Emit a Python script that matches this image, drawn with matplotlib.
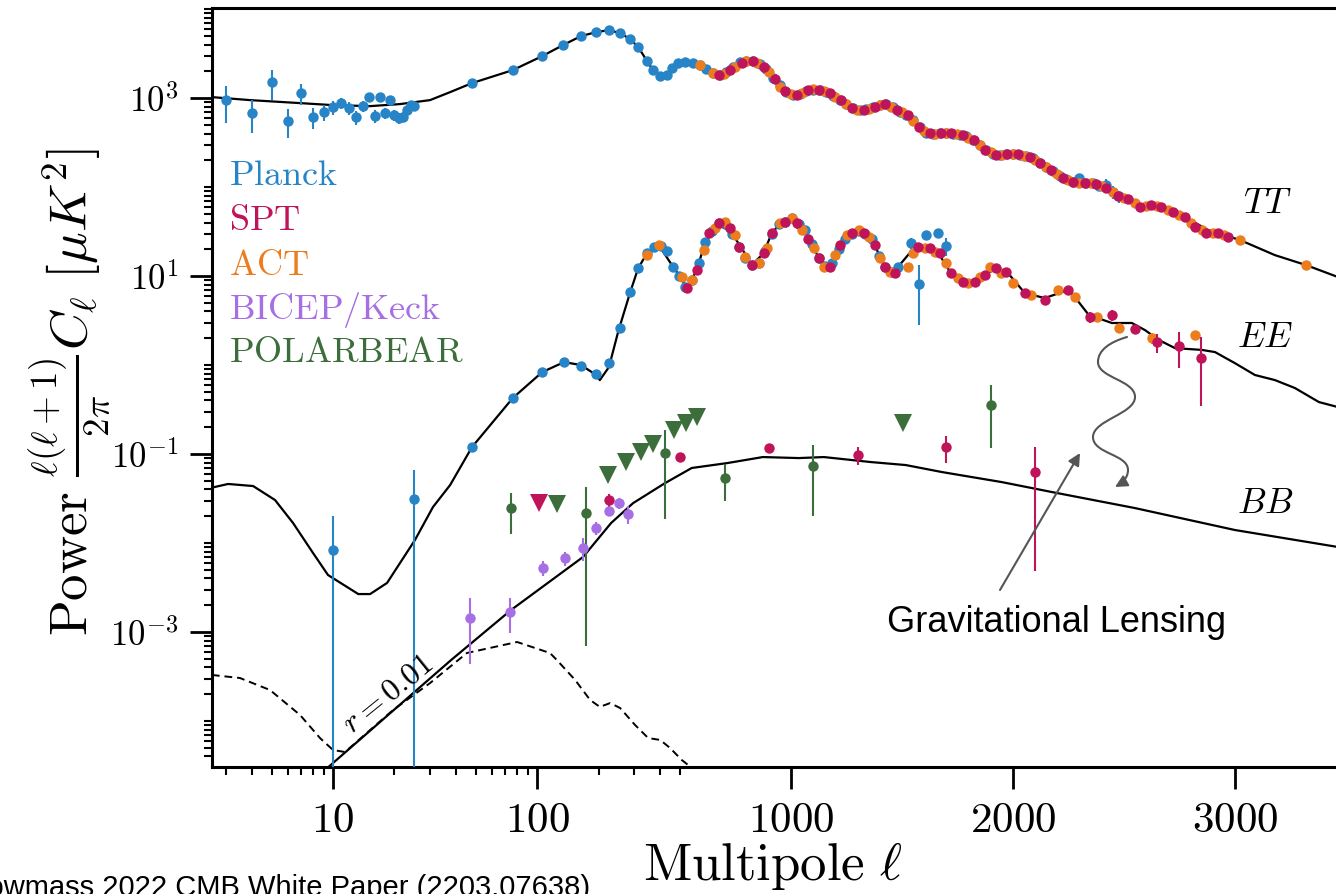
import numpy as np
import matplotlib
matplotlib.use("Agg")
import matplotlib.pyplot as plt
from matplotlib.path import Path
from matplotlib.patches import FancyArrowPatch
from matplotlib.ticker import FixedLocator, FixedFormatter, NullFormatter

plt.rcParams['mathtext.fontset'] = 'cm'

# theory spectra (multipole, D_ell in uK^2) -----------------------------
tt_ell = [2.5, 3.92, 6.89, 10, 15.2, 21.3, 29.9, 37.5, 48, 76, 106, 134, 164, 195, 225, 255, 286, 313,
          346, 370, 401, 434, 459, 491, 532, 568, 613, 676, 725, 779, 824, 878, 923, 973, 1018, 1081,
          1126, 1171, 1216, 1275, 1320, 1378, 1423, 1491, 1527, 1581, 1626, 1721, 1784, 1874, 1923,
          2023, 2077, 2126, 2216, 2324, 2374, 2473, 2577, 2667, 2775, 2879, 3023, 3180, 3320, 3464, 3520]
tt_D = [1030, 950, 879, 834, 813, 857, 950, 1168, 1475, 2064, 2965, 3945, 4977, 5521, 5808, 5373, 4603, 3742,
        2606, 2064, 1768, 1813, 2172, 2473, 2535, 2473, 2229, 1813, 2064, 2473, 2673, 2349, 1678, 1231, 1081, 1231,
        1231, 1138, 950, 773, 733, 813, 879, 697, 644, 472, 384, 404, 384, 261, 229,
        235, 217, 177, 126, 111, 108, 81.3, 62.8, 59.6, 46.0, 32.9, 25.4, 17.2, 13.3, 9.75, 9.2]

ee_ell = [2.5, 3.06, 4.06, 5.2, 6.37, 7.98, 9.45, 13.3, 15.2, 18.4, 25.2, 30.9, 37.5, 48, 76, 106, 135.6,
          164, 195, 203, 225, 250, 286, 313, 346, 395, 451, 502, 532, 577, 613, 676, 734, 779, 824, 878,
          914, 959, 1005, 1063, 1126, 1171, 1230, 1275, 1320, 1378, 1423, 1468, 1482, 1530, 1572, 1626,
          1676, 1721, 1797, 1887, 1932, 1978, 2054, 2144, 2248, 2279, 2342, 2446, 2536, 2595, 2658, 2730,
          2851, 2910, 3000, 3090, 3180, 3270, 3378, 3464, 3520]
ee_D = [0.0415, 0.0461, 0.0437, 0.0304, 0.0168, 0.00773, 0.00437, 0.00267, 0.00267, 0.00356, 0.0108, 0.0254,
        0.0449, 0.120, 0.426, 0.834, 1.08, 1.0, 0.773, 0.678, 0.95, 2.4, 6.6, 12.3, 18.1, 22.3, 14.0, 9.75, 7.33,
        11.7, 23.5, 39.4, 30.4, 20.6, 13.3, 18.1, 30.4, 40.5, 44.9, 32.9, 15.9, 12.6, 23.5, 30.4, 31.2, 22.3,
        12.6, 10.8, 12.6, 17.5, 21.2, 20.6, 16.3, 10.8, 8.34, 10.8, 12.3, 10.8, 6.44, 5.66, 6.97, 5.81, 3.65,
        2.97, 2.97, 2.47, 1.91, 1.55, 1.48, 1.40, 1.05, 0.773, 0.678, 0.552, 0.384, 0.337, 0.31]

bb_ell = [9, 37.9, 74.6, 168, 230.6, 295.5, 424, 554, 716, 874, 1036, 1149, 1360, 1518, 1680, 1950, 2176,
          2550, 3000, 3464, 3520]
bb_D = [2.73e-5, 4.84e-4, 1.77e-3, 6.97e-3, 0.0168, 0.0281, 0.0472, 0.0697, 0.0793, 0.0925, 0.0901, 0.0925,
        0.0813, 0.0752, 0.0628, 0.0484, 0.0374, 0.0247, 0.0140, 0.00902, 0.0087]

r001_ell = [2.55, 3.50, 4.91, 6.89, 8.63, 10, 11.45, 19.7, 29.9, 45.3, 79.8, 115.6, 125, 153.6, 182, 203,
            228, 255, 302, 350, 401, 448, 509, 554, 599]
r001_D = [3.29e-4, 3.04e-4, 2.23e-4, 1.17e-4, 6.44e-5, 4.72e-5, 4.48e-5, 1.33e-4, 2.67e-4, 5.81e-4, 7.72e-4,
          5.81e-4, 4.84e-4, 2.89e-4, 1.72e-4, 1.44e-4, 1.59e-4, 1.40e-4, 9.02e-5, 6.44e-5, 6.12e-5, 4.98e-5,
          3.65e-5, 2.97e-5, 2.47e-5]

# Planck ----------------------------------------------------------------
planck_tt_lo_ell = list(range(3, 26))
planck_tt_lo_D = [950, 678, 1514, 552, 1138, 613, 697, 793, 879, 773, 613, 813, 1026, 628, 1026, 678, 950,
                  644, 596, 613, 733, 834, 813]
planck_tt_lo_err = [420, 270, 550, 200, 300, 160, 150, 140, 130, 120, 110, 110, 110, 100, 100, 90, 90, 90,
                    80, 80, 80, 80, 80]

planck_tt_ell = [48, 76, 106, 134, 164, 195, 225, 255, 286, 313, 346, 370, 401, 434, 459, 491, 524, 560, 590,
                 620, 650, 680, 710, 740, 770, 800, 830, 860, 890, 920, 950, 980, 1010, 1040, 1070, 1100,
                 1130, 1160, 1190, 1220, 1250, 1280, 1310, 1340, 1370, 1400, 1430, 1460, 1490, 1520, 1550,
                 1580, 1610, 1640, 1670, 1700, 1730, 1760, 1790, 1820, 1850, 1880, 1910, 1940, 1970, 2000,
                 2030, 2060, 2090, 2120, 2150, 2180, 2210, 2240, 2270, 2300, 2330, 2360, 2390, 2420, 2450, 2480]
planck_tt_D = [1475, 2064, 2965, 3945, 4977, 5521, 5808, 5373, 4603, 3742, 2606, 2064, 1768, 1813, 2172, 2473,
               2535, 2473, 2350, 2150, 1900, 1800, 1950, 2250, 2550, 2600, 2600, 2400, 2100, 1700, 1400, 1180,
               1090, 1120, 1200, 1230, 1230, 1160, 1060, 950, 850, 770, 735, 760, 800, 840, 870, 790, 700, 650,
               570, 472, 410, 395, 404, 404, 400, 390, 375, 340, 300, 258, 235, 230, 235, 235, 232, 222, 210,
               186, 168, 150, 132, 122, 114, 126, 111, 110, 104, 105, 88, 79]
planck_tt_err = [0] * 50 + [20, 20, 18, 18, 18, 18, 18, 18, 18, 18, 18, 16, 16, 16, 16, 16, 16, 16, 16, 15,
                            14, 13, 12, 12, 12, 15, 12, 12, 14, 18, 14, 12]

planck_ee_lo_ell = [10, 25]
planck_ee_lo_D = [8.34e-3, 0.0312]
planck_ee_lo_err = [0.0118, 0.035]

planck_ee_ell = [48, 76, 106, 135, 164, 195, 225, 256, 286, 313, 346, 375, 405, 434, 465, 495, 525, 555, 585,
                 615, 645, 675, 705, 735, 765, 795, 825, 855, 885, 915, 945, 975, 1005, 1035, 1065, 1095,
                 1125, 1155, 1185, 1215, 1245, 1275, 1305, 1335, 1365, 1395, 1425, 1455, 1485, 1541, 1577,
                 1608, 1662, 1698]
planck_ee_D = [0.120, 0.426, 0.834, 1.08, 0.975, 0.79, 1.05, 2.6, 6.6, 12.3, 18.1, 21.5, 22, 19.1, 12.5, 9.9,
               7.6, 9, 14, 24, 32, 39, 38, 30, 21, 16, 13.3, 14, 19, 30, 38, 41, 45, 38, 33, 23, 16, 13, 14,
               20, 26, 30, 32, 30, 26, 17, 12.6, 11, 12.6, 23.5, 8.13, 28.9, 30.4, 21.7]
planck_ee_err = [0] * 49 + [3.5, 5.3, 3.5, 3.5, 5]

# SPT -------------------------------------------------------------------
spt_tt_ell = [676, 725, 779, 829, 878, 928, 973, 1027, 1077, 1126, 1176, 1225, 1275, 1329, 1378, 1423, 1477,
              1527, 1577, 1626, 1676, 1721, 1775, 1824, 1874, 1923, 1973, 2023, 2077, 2122, 2171, 2225, 2270,
              2324, 2374, 2419, 2473, 2518, 2572, 2622, 2667, 2721, 2775, 2820, 2869, 2923, 2968]
spt_tt_D = [1813, 2064, 2473, 2606, 2229, 1634, 1199, 1081, 1231, 1231, 1138, 950, 773, 733, 793, 857, 733,
            644, 472, 404, 404, 404, 384, 337, 261, 229, 235, 235, 217, 186, 155, 126, 114, 111, 108, 97.5,
            79.3, 73.3, 59.6, 62.8, 59.6, 52.4, 46.0, 35.5, 30.4, 30.4, 27.4]

spt_ee_ell = [532, 577, 630, 676, 725, 766, 824, 878, 914, 973, 1027, 1077, 1126, 1176, 1220, 1275, 1329,
              1378, 1423, 1468, 1572, 1626, 1671, 1721, 1775, 1829, 1874, 1923, 1968, 2054, 2144, 2248,
              2347, 2446, 2550, 2649, 2748, 2847]
spt_ee_D = [7.33, 11.7, 30.4, 39.4, 34.6, 21.2, 13.3, 18.1, 30.4, 40.5, 39.4, 26.1, 15.9, 12.6, 22.3, 30.4,
            30.4, 22.3, 12.6, 10.8, 21.2, 20.6, 18.1, 10.8, 8.57, 8.57, 10.3, 12.3, 11.1, 6.44, 5.37, 6.97,
            3.46, 3.65, 2.54, 1.81, 1.63, 1.20]
spt_ee_err = [0] * 30 + [0.5, 0.6, 0.5, 0.5, 0.3, 0.45, 0.7, 0.85]

spt_bb_ell = [225.4, 500, 901, 1302, 1698, 2099]
spt_bb_D = [0.0304, 0.0925, 0.117, 0.0975, 0.120, 0.0628]
spt_bb_err = [0.005, 0.01, 0.01, 0.022, 0.04, 0.058]
spt_bb_ul_ell = [102.3]
spt_bb_ul_D = [0.0281]

# ACT -------------------------------------------------------------------
act_tt_ell = [590, 650, 700, 750, 800, 850, 900, 950, 1000, 1050, 1100, 1150, 1200, 1250, 1300, 1350, 1400,
              1450, 1500, 1550, 1600, 1650, 1700, 1750, 1800, 1850, 1900, 1950, 2000, 2050, 2100, 2150, 2200,
              2250, 2300, 2350, 2400, 2450, 2500, 2550, 2600, 2650, 2700, 2750, 2800, 2850, 2900, 2950,
              3023, 3320]
act_tt_D = [2350, 1900, 1880, 2250, 2600, 2450, 1950, 1350, 1100, 1150, 1250, 1200, 1020, 850, 740, 760, 840,
            800, 690, 560, 430, 400, 404, 395, 360, 300, 245, 232, 235, 226, 200, 170, 140, 120, 112, 110,
            102, 88, 76, 66, 61, 61, 56, 49, 40, 33, 30.4, 29, 25.4, 13.3]

act_ee_ell = [346, 395, 509, 554, 608, 658, 703, 748, 793, 856, 892, 950, 1005, 1050, 1104, 1149, 1198, 1252,
              1306, 1351, 1401, 1446, 1527, 1549, 1604, 1649, 1698, 1752, 1797, 1851, 1896, 1946, 2000, 2081,
              2203, 2279, 2378, 2477, 2626, 2820]
act_ee_D = [17.2, 22.3, 9.75, 9.02, 19.6, 34.6, 40.5, 28.9, 16.3, 14.0, 20.6, 39.4, 44.9, 32.9, 20.6, 12.6,
            17.2, 28.9, 32.9, 27.4, 15.9, 11.1, 12.6, 18.1, 20.6, 18.6, 14.0, 9.5, 8.34, 9.75, 12.6, 10.8,
            8.34, 6.13, 6.97, 5.81, 3.46, 2.61, 2.01, 2.17]
act_ee_err = [0] * 36 + [0.3, 0.3, 0.3, 0.2]

# BICEP/Keck and POLARBEAR B-modes --------------------------------------
bk_ell = [46.9, 73.7, 107, 137, 168, 195, 224, 252, 278]
bk_D = [1.44e-3, 1.68e-3, 5.24e-3, 6.78e-3, 8.79e-3, 0.01476, 0.0229, 0.0281, 0.0212]
bk_err = [1.0e-3, 7e-4, 1e-3, 1.2e-3, 2.5e-3, 2.5e-3, 3e-3, 4e-3, 5e-3]

pb_ell = [74.6, 173.8, 424, 703, 1099, 1901]
pb_D = [0.0247, 0.0217, 0.1026, 0.0537, 0.0733, 0.356]
pb_err = [0.012, 0.021, 0.084, 0.024, 0.053, 0.24]
pb_ul_ell = [125.3, 222.8, 273, 323.4, 370.4, 469.7, 527, 577, 1505]
pb_ul_D = [0.0274, 0.058, 0.0813, 0.105, 0.129, 0.186, 0.223, 0.261, 0.223]

C_PLANCK = '#2784c6'
C_SPT = '#c0145a'
C_ACT = '#ec7d1e'
C_BK = '#a66fe4'
C_PB = '#3c6e3c'


# log below l=500, linear above
L_BREAK = 500.0
LIN_SLOPE = 0.222 / 204.0


def fwd(l):
    l = np.asarray(l, dtype=float)
    with np.errstate(divide='ignore', invalid='ignore'):
        lo = np.log10(np.maximum(l, 1e-6))
    return np.where(l <= L_BREAK, lo, np.log10(L_BREAK) + (l - L_BREAK) * LIN_SLOPE)


def inv(u):
    u = np.asarray(u, dtype=float)
    ub = np.log10(L_BREAK)
    with np.errstate(over='ignore'):
        lo = 10.0 ** np.minimum(u, 20)
    return np.where(u <= ub, lo, L_BREAK + (u - ub) / LIN_SLOPE)


def dots(ax, ell, D, err, color, z):
    ax.errorbar(ell, D, yerr=err, fmt='o', color=color, ms=7.5, mew=0, elinewidth=1.5,
                capsize=0, zorder=z)


fig = plt.figure(figsize=(13.36, 8.94), dpi=100)
ax = fig.add_axes([212 / 1336, 127 / 894, 1124 / 1336, 759 / 894])
ax.set_yscale('log')
ax.set_ylim(3.04e-5, 1.03e4)
ax.set_xlim(2.553, 3455)
ax.set_xscale('function', functions=(fwd, inv))
ax.set_xlim(2.553, 3455)

ax.plot(tt_ell, tt_D, color='k', lw=1.6, zorder=1)
ax.plot(ee_ell, ee_D, color='k', lw=1.6, zorder=1)
ax.plot(bb_ell, bb_D, color='k', lw=1.6, zorder=1)
ax.plot(r001_ell, r001_D, color='k', lw=1.4, ls=(0, (4, 2.5)), zorder=1)

dots(ax, planck_tt_lo_ell, planck_tt_lo_D, planck_tt_lo_err, C_PLANCK, 3)
dots(ax, planck_tt_ell, planck_tt_D, planck_tt_err, C_PLANCK, 3)
dots(ax, planck_ee_lo_ell, planck_ee_lo_D, planck_ee_lo_err, C_PLANCK, 3)
dots(ax, planck_ee_ell, planck_ee_D, planck_ee_err, C_PLANCK, 3)
dots(ax, act_tt_ell, act_tt_D, None, C_ACT, 4)
dots(ax, act_ee_ell, act_ee_D, act_ee_err, C_ACT, 4)
dots(ax, spt_tt_ell, spt_tt_D, None, C_SPT, 5)
dots(ax, spt_ee_ell, spt_ee_D, spt_ee_err, C_SPT, 5)

dots(ax, bk_ell, bk_D, bk_err, C_BK, 6)
dots(ax, pb_ell, pb_D, pb_err, C_PB, 6)
dots(ax, spt_bb_ell, spt_bb_D, spt_bb_err, C_SPT, 6)
ax.plot(pb_ul_ell, pb_ul_D, 'v', color=C_PB, ms=12.5, mew=0, zorder=6)
ax.plot(spt_bb_ul_ell, spt_bb_ul_D, 'v', color=C_SPT, ms=12.5, mew=0, zorder=6)

ax.set_xlim(2.553, 3455)
ax.set_ylim(3.04e-5, 1.03e4)

ax.xaxis.set_major_locator(FixedLocator([10, 100, 1000, 2000, 3000]))
ax.xaxis.set_major_formatter(FixedFormatter([r'$10$', r'$100$', r'$1000$', r'$2000$', r'$3000$']))
ax.xaxis.set_minor_locator(FixedLocator([3, 4, 5, 6, 7, 8, 9, 20, 30, 40, 50, 60, 70, 80, 90,
                                         200, 300, 400, 500]))
ax.xaxis.set_minor_formatter(NullFormatter())

ymaj = [1e-3, 1e-1, 1e1, 1e3]
ax.yaxis.set_major_locator(FixedLocator(ymaj))
ax.yaxis.set_major_formatter(FixedFormatter([r'$10^{-3}$', r'$10^{-1}$', r'$10^{1}$', r'$10^{3}$']))
ymin = [m * 10.0 ** k for k in range(-5, 5) for m in range(1, 10)
        if not any(np.isclose(m * 10.0 ** k, v) for v in ymaj)]
ax.yaxis.set_minor_locator(FixedLocator(ymin))
ax.yaxis.set_minor_formatter(NullFormatter())

ax.tick_params(which='major', length=16, width=2, direction='out')
ax.tick_params(which='minor', length=6, width=1.5, direction='out')
ax.tick_params(axis='x', which='major', labelsize=31, pad=7)
ax.tick_params(axis='y', which='major', labelsize=25, pad=8)
ax.tick_params(top=False, right=False, which='both')
for s in ['top', 'left', 'bottom']:
    ax.spines[s].set_linewidth(2.2)
ax.spines['right'].set_visible(False)

# labels
fig.text(773 / 1336, 1 - 880 / 894, r'$\mathrm{Multipole}\ \ell$', ha='center', va='baseline', fontsize=38)
fig.text(70 / 1336, 1 - 392 / 894, r'$\mathrm{Power}\ \frac{\ell(\ell+1)}{2\pi}C_\ell\ [\mu K^2]$',
         rotation=90, ha='center', va='center', fontsize=38)

legend_names = [r'$\mathrm{Planck}$', r'$\mathrm{SPT}$', r'$\mathrm{ACT}$', r'$\mathrm{BICEP/Keck}$',
                r'$\mathrm{POLARBEAR}$']
legend_cols = [C_PLANCK, C_SPT, C_ACT, C_BK, C_PB]
legend_y = [0.780, 0.7207, 0.661, 0.602, 0.547]
for name, col, yy in zip(legend_names, legend_cols, legend_y):
    ax.text(0.0151, yy, name, color=col, fontsize=26, ha='left', va='center', transform=ax.transAxes)

ax.text(3144, 66, r'$TT$', fontsize=26, ha='center', va='center')
ax.text(3135, 2.07, r'$EE$', fontsize=26, ha='center', va='center')
ax.text(3135, 0.0281, r'$BB$', fontsize=26, ha='center', va='center')
ax.text(18.6, 2.01e-4, r'$r=0.01$', fontsize=23, rotation=39, ha='center', va='center')


def fp(x, y):
    return (x / 1336, 1 - y / 894)


fig.text(*fp(887, 622), 'Gravitational Lensing', fontsize=26, family='Liberation Sans',
         ha='left', va='center')
fig.add_artist(FancyArrowPatch(fp(1000, 590), fp(1080, 453), arrowstyle='-|>', color='#555555', lw=1.5,
                               mutation_scale=18, transform=fig.transFigure, shrinkA=0, shrinkB=0))

wave = [(1127, 337), (1110, 342), (1098, 350), (1098, 362),
        (1098, 378), (1135, 380), (1135, 397),
        (1135, 414), (1093, 420), (1093, 437),
        (1093, 454), (1128, 454), (1128, 470),
        (1128, 478), (1122, 483), (1115, 487)]
codes = [Path.MOVETO] + [Path.CURVE4] * 15
wpath = Path([fp(x, y) for x, y in wave], codes)
fig.add_artist(FancyArrowPatch(path=wpath, arrowstyle='-|>', color='#555555', lw=1.5, mutation_scale=18,
                               transform=fig.transFigure))

fig.text(590 / 1336, -2 / 894, 'Snowmass 2022 CMB White Paper (2203.07638)', ha='right',
         va='baseline', fontsize=21, family='Liberation Sans')

fig.savefig('out.png', dpi=100)
